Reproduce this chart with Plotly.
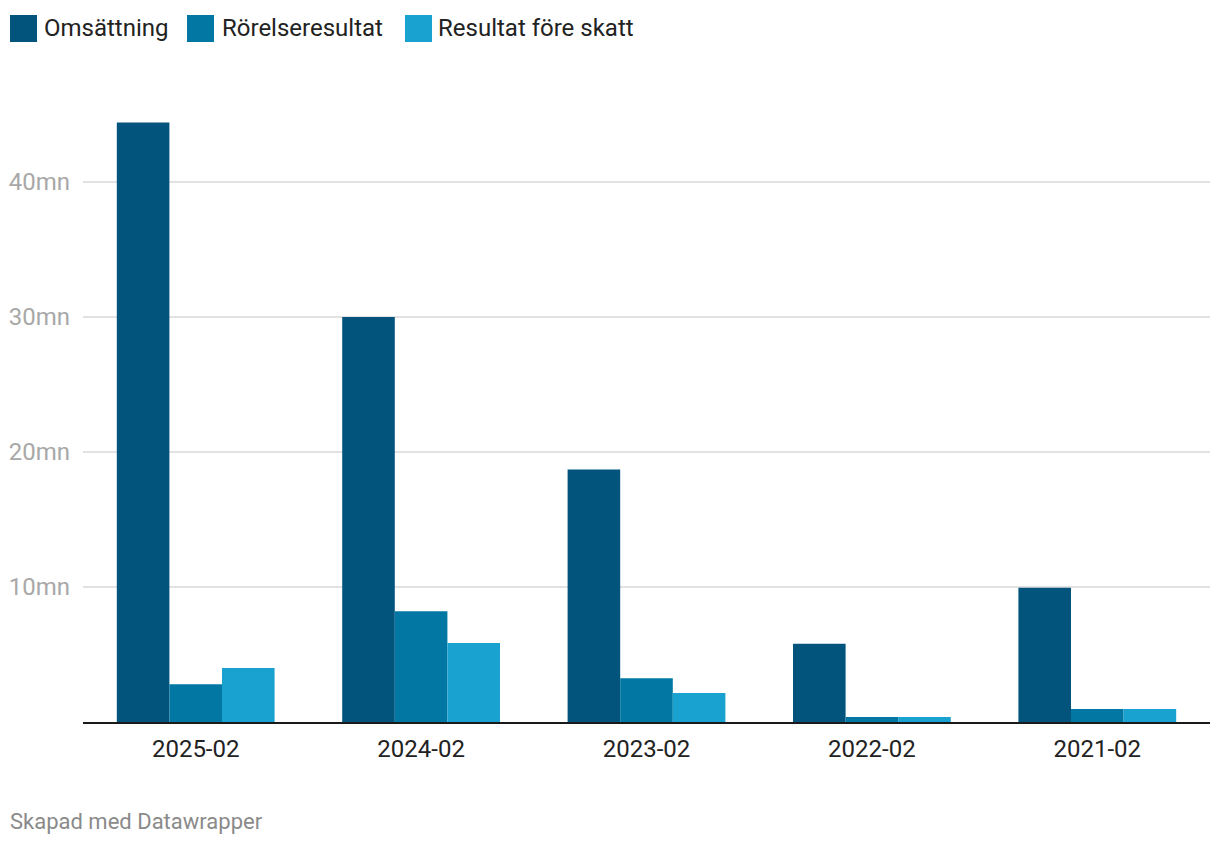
import plotly.graph_objects as go

categories = ["2025-02", "2024-02", "2023-02", "2022-02", "2021-02"]
series_names = ["Omsättning", "Rörelseresultat", "Resultat före skatt"]
omsattning = [44.4, 30.0, 18.7, 5.8, 9.95]
rorelseresultat = [2.8, 8.2, 3.25, 0.37, 0.96]
resultat_fore_skatt = [4.0, 5.85, 2.15, 0.37, 0.96]
series_values = [omsattning, rorelseresultat, resultat_fore_skatt]
colors = ["#02547c", "#0277a4", "#19a2d0"]
y_ticks = [10, 20, 30, 40]
y_tick_text = [f"{v}mn" for v in y_ticks]

W, H = 1220, 844
ML, MR, MT, MB = 83, 10, 101, 122
PW = W - ML - MR
PH = H - MT - MB

def px_x(px):
    return (px - ML) / PW

def px_y(py):
    return (H - MB - py) / PH

fig = go.Figure()
for name, vals, col in zip(series_names, series_values, colors):
    fig.add_trace(go.Bar(x=categories, y=vals, name=name, marker=dict(color=col, line=dict(width=0)),
                         showlegend=False, hoverinfo="x+y+name"))

# manual legend
sq_x = [10, 187, 405]
tx_x = [42, 220, 436]
for name, col, sx, tx in zip(series_names, colors, sq_x, tx_x):
    fig.add_shape(type="rect", xref="paper", yref="paper",
                  x0=px_x(sx), x1=px_x(sx + 27), y0=px_y(42), y1=px_y(15),
                  fillcolor=col, line=dict(width=0))
    fig.add_annotation(xref="paper", yref="paper", x=px_x(tx), y=px_y(28), text=name,
                       showarrow=False, xanchor="left", yanchor="middle",
                       font=dict(family="Roboto", size=24, color="#222222"))

fig.add_annotation(xref="paper", yref="paper", x=px_x(8), y=px_y(821), text="Skapad med Datawrapper",
                   showarrow=False, xanchor="left", yanchor="middle",
                   font=dict(family="Roboto", size=22, color="#8a8a8a"))

fig.update_layout(
    width=W, height=H,
    margin=dict(l=ML, r=MR, t=MT, b=MB, autoexpand=False),
    paper_bgcolor="white", plot_bgcolor="white",
    barmode="group", bargap=0.3, bargroupgap=0,
    font=dict(family="Roboto", size=24, color="#222222"),
    xaxis=dict(type="category", showline=True, linecolor="#1a1a1a", linewidth=2, ticks="", showgrid=False,
               tickfont=dict(family="Roboto", size=24, color="#222222"), ticklabelstandoff=4,
               fixedrange=True),
    yaxis=dict(range=[0, 46], tickvals=y_ticks, ticktext=y_tick_text, showgrid=True,
               gridcolor="#e2e2e2", gridwidth=1.5, zeroline=False, showline=False, ticks="",
               tickfont=dict(family="Roboto", size=24, color="#a8a8a8"), ticklabelstandoff=12,
               fixedrange=True),
)

fig.write_html("out.html", config={"displayModeBar": False},
               post_script="document.body.style.margin='0';document.body.style.overflow='hidden';")
